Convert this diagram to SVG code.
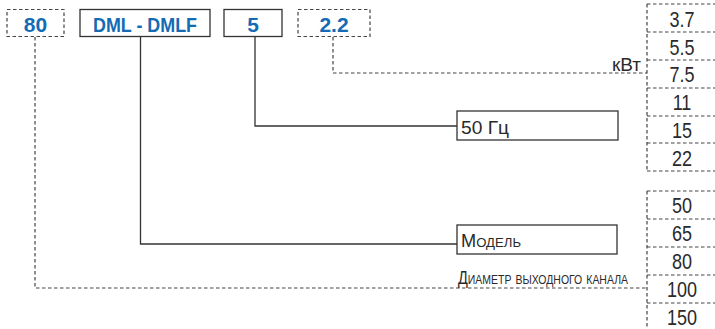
<svg xmlns="http://www.w3.org/2000/svg" width="715" height="329" viewBox="0 0 715 329">
<style>
.solid{fill:#fff;stroke:#333;stroke-width:1.3}
.dash{fill:#fff;stroke:#444;stroke-width:1.2;stroke-dasharray:3.5 2.5}
.cs{fill:none;stroke:#333;stroke-width:1.3}
.cd{fill:none;stroke:#444;stroke-width:1.2;stroke-dasharray:3.5 2.5}
.code{font-family:"Liberation Sans",Arial,sans-serif;font-weight:bold;font-size:21px;fill:#136bb5;text-anchor:middle}
.lbl{font-family:"Liberation Sans",Arial,sans-serif;font-size:18px;fill:#2a2a2a}
.sc{font-variant:small-caps}
.num{font-family:"Liberation Sans",Arial,sans-serif;font-size:22px;fill:#2a2a2a;text-anchor:middle}
</style>
<g id="connectors">
<path class="cd" d="M35 37V288H647"/>
<path class="cs" d="M140.5 37V244H457"/>
<path class="cs" d="M255 37V126H457"/>
<path class="cd" d="M333 37V73H647"/>
</g>
<g id="n80"><rect class="dash" x="7" y="9.5" width="57" height="27"/><text class="code" x="35.5" y="32">80</text></g>
<g id="nDML"><rect class="solid" x="80" y="9.5" width="130" height="27"/><text class="code" x="145" y="32" textLength="104" lengthAdjust="spacingAndGlyphs">DML - DMLF</text></g>
<g id="n5"><rect class="solid" x="224" y="9.5" width="58" height="27"/><text class="code" x="253" y="32">5</text></g>
<g id="n22"><rect class="dash" x="298" y="9.5" width="72" height="27"/><text class="code" x="334" y="32">2.2</text></g>
<g id="kw"><text class="lbl" x="641" y="71" text-anchor="end" font-size="18" textLength="29" lengthAdjust="spacingAndGlyphs">кВт</text></g>
<g id="hz"><rect class="solid" x="457" y="111" width="161" height="29"/><text class="lbl" x="461" y="134" textLength="48" lengthAdjust="spacingAndGlyphs">50 Гц</text></g>
<g id="model"><rect class="solid" x="457" y="225" width="160" height="29"/><text class="lbl sc" x="461" y="247" font-size="19" textLength="60" lengthAdjust="spacingAndGlyphs">Модель</text></g>
<g id="diam"><text class="lbl sc" x="458" y="284" font-size="17" textLength="170" lengthAdjust="spacingAndGlyphs">Диаметр выходного канала</text></g>
<g id="power">
<path class="cd" d="M647 4V171M647 4H715M647 32H715M647 60H715M647 88H715M647 116H715M647 143H715M647 171H715"/>
<g transform="translate(682 0) scale(0.82 1)">
<text class="num" x="0" y="27.5">3.7</text>
<text class="num" x="0" y="55.5">5.5</text>
<text class="num" x="0" y="82.5">7.5</text>
<text class="num" x="0" y="110">11</text>
<text class="num" x="0" y="138">15</text>
<text class="num" x="0" y="166">22</text>
</g>
</g>
<g id="diameter">
<path class="cd" d="M647 191V329M647 191H715M647 219H715M647 247H715M647 275H715M647 303H715"/>
<g transform="translate(682 0) scale(0.82 1)">
<text class="num" x="0" y="213">50</text>
<text class="num" x="0" y="241">65</text>
<text class="num" x="0" y="269">80</text>
<text class="num" x="0" y="297">100</text>
<text class="num" x="0" y="325">150</text>
</g>
</g>
</svg>
